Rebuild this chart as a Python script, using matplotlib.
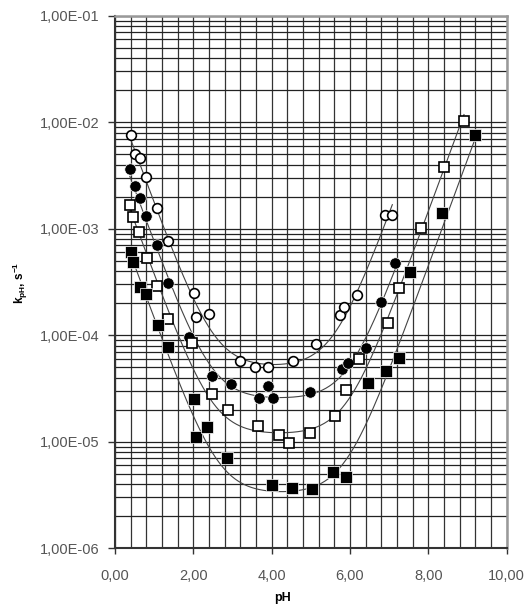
import numpy as np
import matplotlib
matplotlib.use("Agg")
import matplotlib.pyplot as plt
from matplotlib.ticker import FixedLocator, FuncFormatter, LogLocator, MultipleLocator

plt.rcParams['font.family'] = ['Liberation Sans', 'DejaVu Sans']
plt.rcParams['mathtext.fontset'] = 'custom'
plt.rcParams['mathtext.rm'] = 'Liberation Sans'
plt.rcParams['mathtext.bf'] = 'Liberation Sans:bold'

# serie 1 - circulos abertos
ph_oc = np.array([0.41, 0.51, 0.64, 0.79, 1.06, 1.35, 2.01, 2.07, 2.40, 3.19, 3.57, 3.91,
                  4.54, 5.13, 5.74, 5.85, 6.19, 6.89, 7.08])
k_oc = np.array([7.59e-3, 5.02e-3, 4.64e-3, 3.08e-3, 1.55e-3, 7.71e-4, 2.51e-4, 1.49e-4,
                 1.57e-4, 5.77e-5, 5.00e-5, 5.00e-5, 5.73e-5, 8.27e-5, 1.55e-4, 1.83e-4,
                 2.38e-4, 1.35e-3, 1.35e-3])

# serie 2 - circulos cheios
ph_fc = np.array([0.38, 0.52, 0.64, 0.80, 1.08, 1.35, 1.90, 2.47, 2.96, 3.68, 3.91, 4.03,
                  4.98, 5.80, 5.96, 6.40, 6.79, 7.15])
k_fc = np.array([3.64e-3, 2.54e-3, 1.93e-3, 1.32e-3, 7.03e-4, 3.11e-4, 9.55e-5, 4.14e-5,
                 3.48e-5, 2.55e-5, 3.33e-5, 2.55e-5, 2.93e-5, 4.79e-5, 5.52e-5, 7.53e-5,
                 2.07e-4, 4.73e-4])

# serie 3 - quadrados abertos
ph_os = np.array([0.39, 0.45, 0.62, 0.82, 1.07, 1.36, 1.96, 2.47, 2.89, 3.64, 4.19, 4.45,
                  4.98, 5.62, 5.89, 6.23, 6.98, 7.25, 7.81, 8.40, 8.91])
k_os = np.array([1.67e-3, 1.28e-3, 9.37e-4, 5.35e-4, 2.87e-4, 1.43e-4, 8.39e-5, 2.79e-5,
                 1.99e-5, 1.41e-5, 1.17e-5, 9.66e-6, 1.22e-5, 1.75e-5, 3.05e-5, 5.97e-5,
                 1.29e-4, 2.75e-4, 1.01e-3, 3.82e-3, 1.03e-2])

# serie 4 - quadrados cheios
ph_fs = np.array([0.40, 0.45, 0.64, 0.79, 1.09, 1.36, 2.02, 2.07, 2.34, 2.85, 4.00, 4.51,
                  5.02, 5.57, 5.90, 6.45, 6.91, 7.25, 7.53, 8.36, 9.19])
k_fs = np.array([6.08e-4, 4.90e-4, 2.85e-4, 2.44e-4, 1.25e-4, 7.69e-5, 2.50e-5, 1.11e-5,
                 1.37e-5, 6.98e-6, 3.92e-6, 3.70e-6, 3.57e-6, 5.22e-6, 4.63e-6, 3.53e-5,
                 4.61e-5, 6.07e-5, 3.90e-4, 1.41e-3, 7.59e-3])

x_ticks = [0, 2, 4, 6, 8, 10]
y_ticks = [1e-6, 1e-5, 1e-4, 1e-3, 1e-2, 1e-1]


def ajuste(ph, k):
    # k = a*[H+] + b + c/[H+], minimos quadrados com erro relativo
    h = 10.0 ** (-ph)
    A = np.column_stack([h, np.ones_like(h), 1.0 / h]) / k[:, None]
    coef, *_ = np.linalg.lstsq(A, np.ones_like(k), rcond=None)
    coef = np.clip(coef, 1e-12, None)
    x = np.linspace(ph.min(), ph.max(), 400)
    hx = 10.0 ** (-x)
    return x, coef[0] * hx + coef[1] + coef[2] / hx


fig = plt.figure(figsize=(5.26, 6.05), dpi=100)
ax = fig.add_axes([115 / 526, 1 - 548.3 / 605, 391.7 / 526, 532.6 / 605])

series = [
    (ph_oc, k_oc, 'o', 'white', 7),
    (ph_fc, k_fc, 'o', 'black', 8.2),
    (ph_os, k_os, 's', 'white', 7.6),
    (ph_fs, k_fs, 's', 'black', 8.8),
]
for ph, k, mk, fc, ms in series:
    xc, yc = ajuste(ph, k)
    ax.plot(xc, yc, color='#444444', lw=0.8, zorder=3)
for ph, k, mk, fc, ms in series:
    if fc == 'white':
        ax.plot(ph, k, mk, ms=ms, mfc='white', mec='black', mew=1.2, zorder=4, clip_on=False)
    else:
        ax.plot(ph, k, mk, ms=ms, mfc='black', mec='white', mew=0.5, zorder=4, clip_on=False)

ax.set_yscale('log')
ax.set_xlim(0, 10)
ax.set_ylim(1e-6, 1e-1)

ax.xaxis.set_major_locator(FixedLocator(x_ticks))
ax.xaxis.set_minor_locator(MultipleLocator(0.4))
ax.yaxis.set_major_locator(FixedLocator(y_ticks))
ax.yaxis.set_minor_locator(LogLocator(base=10, subs=np.arange(2, 10), numticks=20))
ax.xaxis.set_major_formatter(FuncFormatter(lambda v, p: f"{v:.2f}".replace('.', ',')))
ax.yaxis.set_major_formatter(FuncFormatter(lambda v, p: f"{v:.2E}".replace('.', ',')))
ax.yaxis.set_minor_formatter(FuncFormatter(lambda v, p: ''))

ax.grid(True, which='both', axis='y', color='#222222', lw=0.9)
ax.grid(True, which='both', axis='x', color='#333333', lw=0.9)
ax.set_axisbelow(True)

ax.tick_params(axis='both', which='minor', length=0)
ax.tick_params(axis='y', which='major', length=5, width=1, color='#333333',
               labelsize=10.5, labelcolor='#555555', pad=6)
ax.tick_params(axis='x', which='major', length=4, width=1, color='#333333',
               labelsize=10.5, labelcolor='#555555', pad=11)

for s in ['left', 'bottom']:
    ax.spines[s].set_color('#333333')
    ax.spines[s].set_linewidth(1.5)
for s in ['top', 'right']:
    ax.spines[s].set_color('#999999')
    ax.spines[s].set_linewidth(1.8)

fig.text(283 / 526, 1 - 598 / 605, 'pH', fontsize=9, fontweight='bold',
         ha='center', va='center')
fig.text(20 / 526, 1 - 283 / 605, r'k$_{\mathbf{pH}}$, s$^{\mathbf{-1}}$', fontsize=8.5,
         fontweight='bold', rotation=90, ha='center', va='center')

fig.savefig('out.png', dpi=100)
